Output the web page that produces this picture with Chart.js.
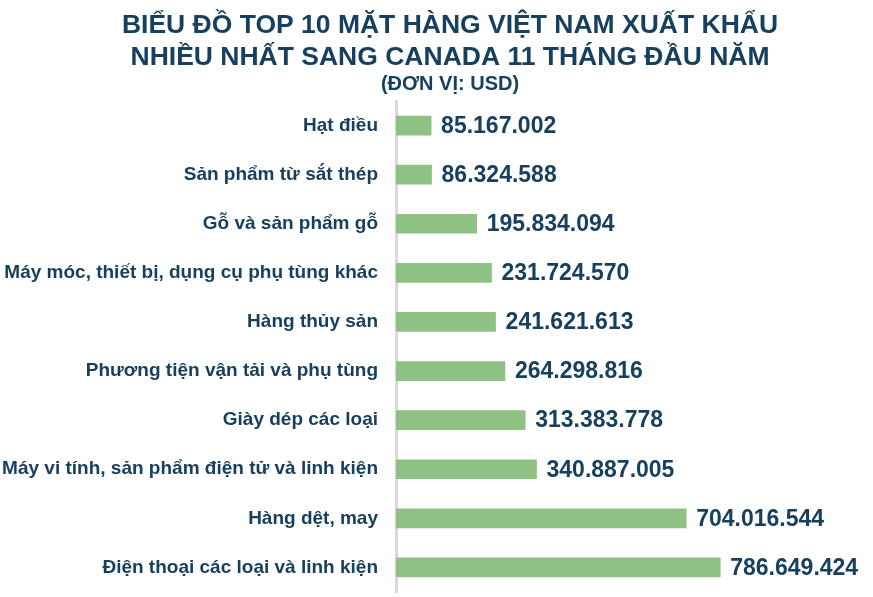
<!DOCTYPE html>
<html lang="vi">
<head>
  <meta charset="UTF-8">
  <title>Top 10 mặt hàng xuất khẩu sang Canada</title>
  <script src="https://cdn.jsdelivr.net/npm/chart.js"></script>
  <style>
    html, body { margin: 0; padding: 0; background: #fff; overflow: hidden; }
    canvas { display: block; }
  </style>
</head>
<body>
  <canvas id="exportChart" width="873" height="597"></canvas>

  <script>
    const categories = [
      'Hạt điều',
      'Sản phẩm từ sắt thép',
      'Gỗ và sản phẩm gỗ',
      'Máy móc, thiết bị, dụng cụ phụ tùng khác',
      'Hàng thủy sản',
      'Phương tiện vận tải và phụ tùng',
      'Giày dép các loại',
      'Máy vi tính, sản phẩm điện tử và linh kiện',
      'Hàng dệt, may',
      'Điện thoại các loại và linh kiện'
    ];
    const values = [
      85167002, 86324588, 195834094, 231724570, 241621613,
      264298816, 313383778, 340887005, 704016544, 786649424
    ];
    const titleLines = [
      'BIỂU ĐỒ TOP 10 MẶT HÀNG VIỆT NAM XUẤT KHẨU',
      'NHIỀU NHẤT SANG CANADA 11 THÁNG ĐẦU NĂM'
    ];
    const unitLabel = '(ĐƠN VỊ: USD)';

    const navy = '#17405e';
    const barGreen = '#8fc184';
    const sans = '"Liberation Sans", Arial, sans-serif';

    // 786649424 -> 786.649.424
    const formatVN = v => v.toString().replace(/\B(?=(\d{3})+(?!\d))/g, '.');

    // value text after each bar
    const valueLabels = {
      id: 'valueLabels',
      afterDatasetsDraw(chart) {
        const ctx = chart.ctx;
        const meta = chart.getDatasetMeta(0);
        ctx.save();
        ctx.font = 'bold 23px ' + sans;
        ctx.fillStyle = navy;
        ctx.textAlign = 'left';
        ctx.textBaseline = 'middle';
        meta.data.forEach((bar, i) => {
          ctx.fillText(formatVN(values[i]), bar.x + 10, bar.y + 1);
        });
        ctx.restore();
      }
    };

    // title block is centred a bit right of the canvas middle, so draw it here
    // (the built-in title would centre on the canvas)
    const headerText = {
      id: 'headerText',
      afterDraw(chart) {
        const ctx = chart.ctx;
        const cx = 450;
        ctx.save();
        ctx.fillStyle = navy;
        ctx.textAlign = 'center';
        ctx.textBaseline = 'middle';
        ctx.font = 'bold 26.5px ' + sans;
        titleLines.forEach((line, i) => ctx.fillText(line, cx, 26 + i * 32));
        ctx.font = 'bold 20px ' + sans;
        ctx.fillText(unitLabel, cx, 84);
        ctx.restore();
      }
    };

    new Chart(document.getElementById('exportChart'), {
      type: 'bar',
      data: {
        labels: categories,
        datasets: [{
          data: values,
          backgroundColor: barGreen,
          borderWidth: 0,
          barThickness: 19
        }]
      },
      options: {
        indexAxis: 'y',
        responsive: false,
        animation: false,
        layout: { padding: { left: 0, right: 3, top: 101, bottom: 5 } },
        plugins: {
          legend: { display: false },
          tooltip: { enabled: false },
          title: { display: false }
        },
        scales: {
          x: {
            display: false,
            min: 0,
            max: 1150000000
          },
          y: {
            afterFit: scale => {
              scale.width = 396;
              // tick padding would otherwise be reserved above/below the plot
              scale.paddingTop = 0;
              scale.paddingBottom = 0;
            },
            border: { display: true, color: '#d9d9d9', width: 3 },
            grid: { display: false, drawTicks: false },
            ticks: {
              padding: 18,
              color: navy,
              font: { family: sans, size: 19, weight: 'bold' }
            }
          }
        }
      },
      plugins: [valueLabels, headerText]
    });
  </script>
</body>
</html>
